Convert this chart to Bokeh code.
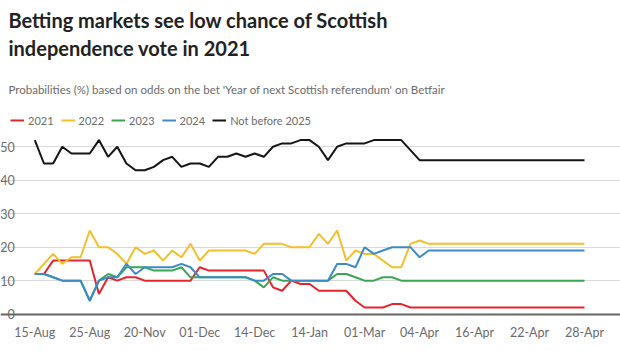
from bokeh.plotting import figure
from bokeh.models import Range1d, FixedTicker, Label, Grid
from bokeh.embed import file_html
from bokeh.resources import INLINE

# ---- data (index = observation number; labels shown every 6 observations)
tick_idx = [0, 6, 12, 18, 24, 30, 36, 42, 48, 54, 60]
tick_labels = ["15-Aug", "25-Aug", "20-Nov", "01-Dec", "14-Dec", "14-Jan",
               "01-Mar", "04-Apr", "16-Apr", "22-Apr", "28-Apr"]
y_ticks = [0, 10, 20, 30, 40, 50]

y2021 = [12, 12, 16, 16, 16, 16, 16,
         6, 11, 10, 11, 11, 10, 10, 10, 10, 10, 10,
         14, 13, 13, 13, 13, 13, 13, 13,
         8, 7, 10, 9, 9, 7, 7, 7, 7,
         4, 2, 2, 2, 3, 3, 2] + [2] * 19
y2022 = [12, 15, 18, 15, 17, 17, 25,
         20, 20, 18, 15, 20, 18, 19, 16, 19, 17, 21,
         16, 19, 19, 19, 19, 19, 18, 21, 21, 21, 20, 20, 20,
         24, 21, 25, 16, 19, 18, 18, 16, 14, 14, 21, 22] + [21] * 18
y2023 = [12, 12, 11, 10, 10, 10, 4,
         10, 12, 11, 14, 14, 14, 13, 13, 13, 14, 11,
         11, 11, 11, 11, 11, 11,
         10, 8, 11, 10,
         10, 10, 10, 10, 10,
         12, 12, 11, 10, 10, 11, 11, 10] + [10] * 20
y2024 = [12, 12, 11, 10, 10, 10, 4,
         10, 11, 11, 15, 12, 14, 14, 14, 14, 15, 14,
         11, 11, 11, 11, 11, 11,
         10, 10, 12, 12, 10, 10, 10, 10, 10,
         15, 15, 14, 20, 18, 19, 20, 20, 20, 17] + [19] * 18
y2025 = [52, 45, 45, 50, 48, 48, 48, 52, 47, 50, 45, 43, 43, 44, 46, 47,
         44, 45, 45, 44, 47, 47, 48, 47, 48, 47, 50, 51, 51, 52, 52,
         50, 46, 50, 51, 51, 51, 52, 52, 52, 52, 49, 46] + [46] * 18
x = list(range(len(y2025)))

series = [("2021", y2021, "#e4252c"),
          ("2022", y2022, "#f3bf2d"),
          ("2023", y2023, "#3aa655"),
          ("2024", y2024, "#3c8ac8"),
          ("Not before 2025", y2025, "#151515")]

title_1 = "Betting markets see low chance of Scottish"
title_2 = "independence vote in 2021"
subtitle = "Probabilities (%) based on odds on the bet 'Year of next Scottish referendum' on Betfair"

FONT = "Lato"
GREY = "#6b6b6b"

p = figure(width=620, height=351, output_backend="svg", toolbar_location=None,
           x_range=Range1d(-3.744, 63.93), y_range=Range1d(-2.5, 93.7),
           min_border_left=0, min_border_right=0, min_border_top=0,
           min_border_bottom=29)
p.outline_line_color = None
p.background_fill_color = "white"
p.border_fill_color = "white"

# gridlines and zero baseline (drawn under the series)
p.xgrid.grid_line_color = None
p.ygrid.ticker = FixedTicker(ticks=y_ticks[1:])
p.ygrid.bounds = (-1, 61)
p.ygrid.grid_line_color = "#d9d9d9"
p.ygrid.grid_line_width = 1
zero = Grid(dimension=1, ticker=FixedTicker(ticks=y_ticks[:1]), bounds=(-1, 61),
            grid_line_color="#666666", grid_line_width=2)
p.add_layout(zero)

for name, ys, col in series:
    p.line(x, ys, line_color=col, line_width=2, legend_label=name)

# axes
p.xaxis.ticker = FixedTicker(ticks=tick_idx)
p.xaxis.major_label_overrides = {i: l for i, l in zip(tick_idx, tick_labels)}
p.xaxis.major_tick_line_color = None
p.xaxis.minor_tick_line_color = None
p.xaxis.axis_line_color = None
p.xaxis.major_label_standoff = -4
p.xaxis.major_label_text_font = FONT
p.xaxis.major_label_text_font_size = "12.5px"
p.xaxis.major_label_text_color = GREY

p.yaxis.ticker = FixedTicker(ticks=y_ticks)
p.yaxis.fixed_location = -1
p.yaxis.axis_line_color = None
p.yaxis.major_tick_line_color = None
p.yaxis.minor_tick_line_color = None
p.yaxis.major_label_standoff = 5
p.yaxis.major_label_text_font = FONT
p.yaxis.major_label_text_font_size = "12.5px"
p.yaxis.major_label_text_color = GREY

# legend
lg = p.legend[0]
lg.location = (10, 195)
lg.orientation = "horizontal"
lg.glyph_width = 14
lg.glyph_height = 14
lg.label_height = 14
lg.label_standoff = 4
lg.spacing = 7
lg.padding = 0
lg.margin = 0
lg.border_line_color = None
lg.background_fill_alpha = 0
lg.label_text_font = FONT
lg.label_text_font_size = "11px"
lg.label_text_color = GREY

# titles (screen units, relative to the frame, which spans the canvas width)
for txt, yy, size, style, col in [(title_1, 303, "20px", "bold", "#222222"),
                                  (title_2, 275, "20px", "bold", "#222222"),
                                  (subtitle, 233, "11.5px", "normal", GREY)]:
    p.add_layout(Label(x=8, y=yy, x_units="screen", y_units="screen",
                       text=txt, text_font=FONT, text_font_size=size,
                       text_font_style=style, text_color=col,
                       text_baseline="alphabetic"))

open("out.html", "w").write(file_html(p, INLINE))
